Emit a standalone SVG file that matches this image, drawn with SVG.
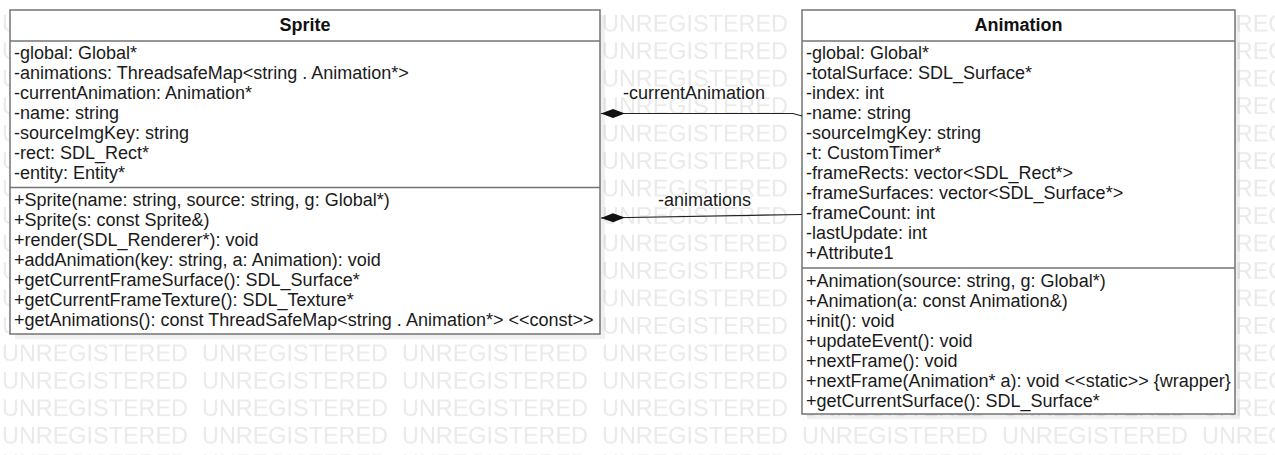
<svg xmlns="http://www.w3.org/2000/svg" width="1275" height="455" viewBox="0 0 1275 455">
  <style>
    .wm { font-family: "Liberation Sans", Arial, sans-serif; font-size: 23.7px; fill: #eaeaea; }
    .box { fill: #ffffff; stroke: #737373; stroke-width: 1.5; }
    .sep { stroke: #737373; stroke-width: 1.5; }
    .shadow { fill: #000000; fill-opacity: 0.06; }
    .title { font-family: "Liberation Sans", Arial, sans-serif; font-size: 18px; font-weight: bold; fill: #111111; text-anchor: middle; }
    .mem { font-family: "Liberation Sans", Arial, sans-serif; font-size: 18px; fill: #1a1a1a; }
    .lbl { font-family: "Liberation Sans", Arial, sans-serif; font-size: 18px; fill: #1a1a1a; }
    .conn { fill: none; stroke: #222222; stroke-width: 1.2; }
  </style>
  <defs>
    <pattern id="wmp" patternUnits="userSpaceOnUse" x="0" y="10" width="200" height="27.47">
      <text class="wm" x="2" y="22" textLength="186" lengthAdjust="spacingAndGlyphs">UNREGISTERED</text>
    </pattern>
    <marker id="diamond" viewBox="0 0 26 10" refX="25" refY="5" markerWidth="26" markerHeight="10" markerUnits="userSpaceOnUse" orient="auto">
      <path d="M1,5 L13,0.5 L25,5 L13,9.5 Z" fill="#111111"/>
    </marker>
  </defs>

  <rect x="0" y="0" width="1275" height="455" fill="#ffffff"/>
  <rect id="watermark" x="0" y="10" width="1275" height="445" fill="url(#wmp)"/>

  <g id="sprite">
    <rect class="shadow" x="15" y="15" width="590" height="324"/>
    <rect class="box" x="10" y="10" width="590" height="324"/>
    <line class="sep" x1="10" y1="41" x2="600" y2="41"/>
    <line class="sep" x1="10" y1="187.5" x2="600" y2="187.5"/>
    <text class="title" x="305" y="31">Sprite</text>
    <text class="mem" x="14" y="59">-global: Global*</text>
    <text class="mem" x="14" y="79">-animations: ThreadsafeMap&lt;string . Animation*&gt;</text>
    <text class="mem" x="14" y="99">-currentAnimation: Animation*</text>
    <text class="mem" x="14" y="119">-name: string</text>
    <text class="mem" x="14" y="139">-sourceImgKey: string</text>
    <text class="mem" x="14" y="159">-rect: SDL_Rect*</text>
    <text class="mem" x="14" y="179">-entity: Entity*</text>
    <text class="mem" x="14" y="206">+Sprite(name: string, source: string, g: Global*)</text>
    <text class="mem" x="14" y="226">+Sprite(s: const Sprite&amp;)</text>
    <text class="mem" x="14" y="246">+render(SDL_Renderer*): void</text>
    <text class="mem" x="14" y="266">+addAnimation(key: string, a: Animation): void</text>
    <text class="mem" x="14" y="286">+getCurrentFrameSurface(): SDL_Surface*</text>
    <text class="mem" x="14" y="306">+getCurrentFrameTexture(): SDL_Texture*</text>
    <text class="mem" x="14" y="326">+getAnimations(): const ThreadSafeMap&lt;string . Animation*&gt; &lt;&lt;const&gt;&gt;</text>
  </g>

  <g id="animation">
    <rect class="shadow" x="807" y="15" width="433" height="404"/>
    <rect class="box" x="802" y="10" width="433" height="404"/>
    <line class="sep" x1="802" y1="41" x2="1235" y2="41"/>
    <line class="sep" x1="802" y1="268" x2="1235" y2="268"/>
    <text class="title" x="1018.5" y="31">Animation</text>
    <text class="mem" x="806" y="59">-global: Global*</text>
    <text class="mem" x="806" y="79">-totalSurface: SDL_Surface*</text>
    <text class="mem" x="806" y="99">-index: int</text>
    <text class="mem" x="806" y="119">-name: string</text>
    <text class="mem" x="806" y="139">-sourceImgKey: string</text>
    <text class="mem" x="806" y="159">-t: CustomTimer*</text>
    <text class="mem" x="806" y="179">-frameRects: vector&lt;SDL_Rect*&gt;</text>
    <text class="mem" x="806" y="199">-frameSurfaces: vector&lt;SDL_Surface*&gt;</text>
    <text class="mem" x="806" y="219">-frameCount: int</text>
    <text class="mem" x="806" y="239">-lastUpdate: int</text>
    <text class="mem" x="806" y="259">+Attribute1</text>
    <text class="mem" x="806" y="286.5">+Animation(source: string, g: Global*)</text>
    <text class="mem" x="806" y="306.5">+Animation(a: const Animation&amp;)</text>
    <text class="mem" x="806" y="326.5">+init(): void</text>
    <text class="mem" x="806" y="346.5">+updateEvent(): void</text>
    <text class="mem" x="806" y="366.5">+nextFrame(): void</text>
    <text class="mem" x="806" y="386.5">+nextFrame(Animation* a): void &lt;&lt;static&gt;&gt; {wrapper}</text>
    <text class="mem" x="806" y="406.5">+getCurrentSurface(): SDL_Surface*</text>
  </g>

  <g id="connectors">
    <polyline class="conn" points="802,116 793,113.5 601,113.5" marker-end="url(#diamond)"/>
    <text class="lbl" x="623" y="99">-currentAnimation</text>
    <polyline class="conn" points="802,214.5 601,218" marker-end="url(#diamond)"/>
    <text class="lbl" x="658" y="206">-animations</text>
  </g>
</svg>
